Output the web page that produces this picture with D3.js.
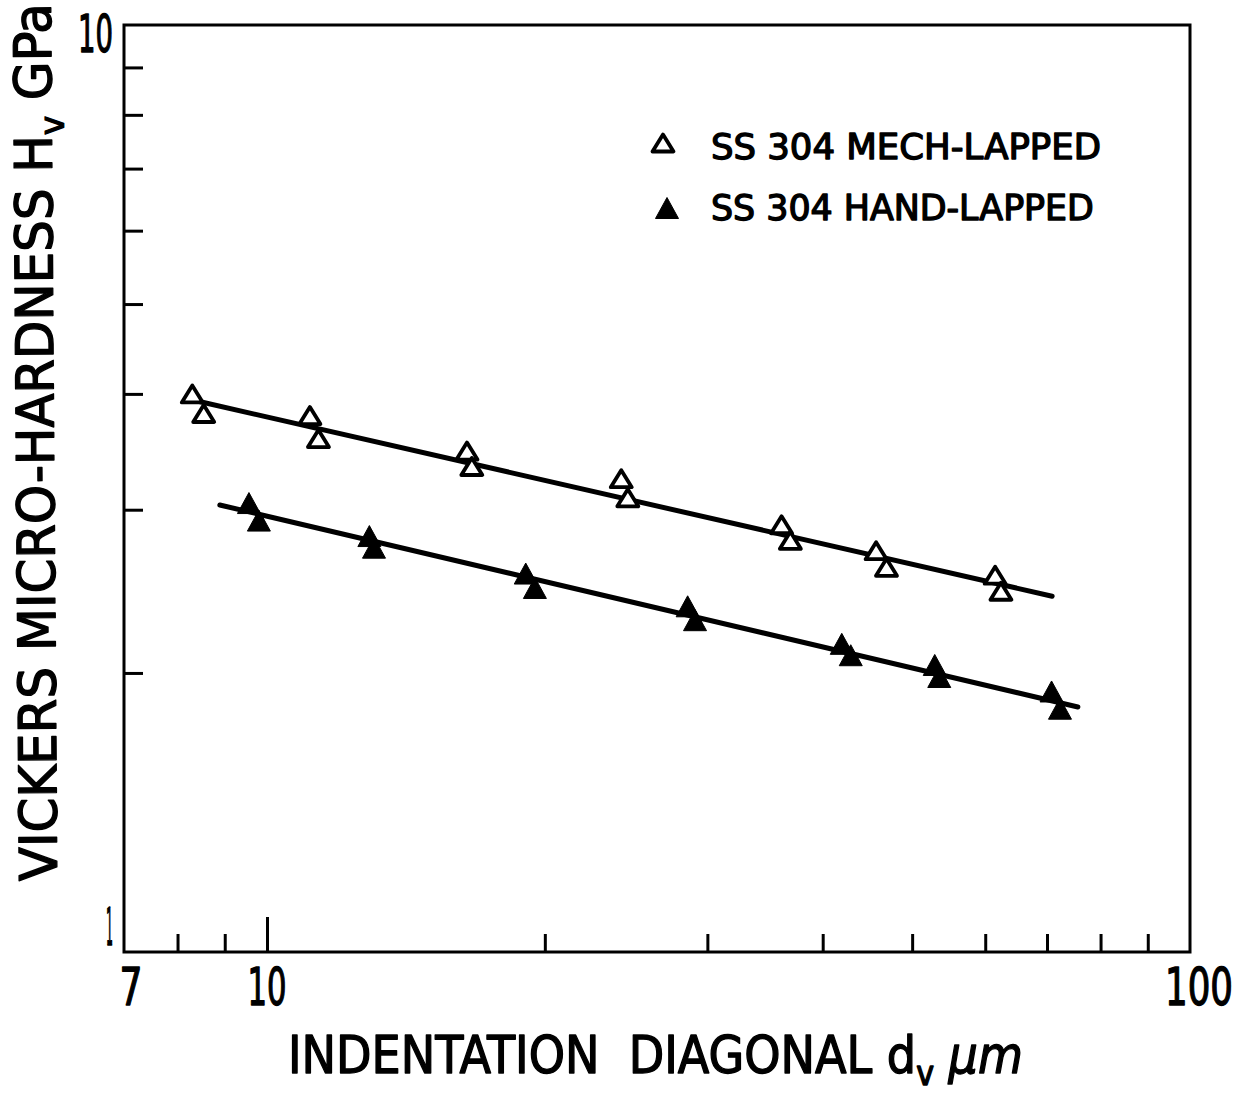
<!DOCTYPE html>
<html lang="en">
<head>
<meta charset="UTF-8" />
<title>Vickers micro-hardness vs indentation diagonal</title>
<script src="https://cdn.jsdelivr.net/npm/d3@7"></script>
<style>
    body { margin: 0; background: #fff; }
    text { font-family: "DejaVu Sans Condensed", "DejaVu Sans", sans-serif; fill: #000;
           stroke: #000; stroke-width: 1.3px; stroke-linejoin: round; }
</style>
</head>
<body>
<svg id="chart" width="1248" height="1097"></svg>
<script>

// data (d in um, Hv in GPa)
var mechD  = [8.30, 8.54, 11.13, 11.37, 16.47, 16.67, 24.2, 24.6, 36.1, 36.9, 45.7, 46.9, 61.5, 62.4];
var mechHv = [4.00, 3.81, 3.79, 3.58, 3.47, 3.34, 3.24, 3.09, 2.89, 2.78, 2.71, 2.60, 2.55, 2.45];
var handD  = [9.56, 9.80, 12.91, 13.06, 19.07, 19.51, 28.56, 29.09, 41.95, 42.9, 52.9, 53.5, 70.8, 72.3];
var handHv = [3.05, 2.92, 2.81, 2.73, 2.56, 2.47, 2.36, 2.28, 2.15, 2.09, 2.04, 1.98, 1.91, 1.83];

// fitted lines, end points
var mechFitD  = [8.4, 70.9];
var mechFitHv = [3.93, 2.42];
var handFitD  = [8.89, 75.6];
var handFitHv = [3.035, 1.838];

// ticks and labels
var xMinorTicks = [8, 9, 20, 30, 40, 50, 60, 70, 80, 90];
var xMajorTicks = [10];
var yMinorTicks = [2, 3, 4, 5, 6, 7, 8, 9];
var xTickLabels = [7, 10, 100];
var yTickLabels = [1, 10];
var legendLabels = ["SS 304 MECH-LAPPED", "SS 304 HAND-LAPPED"];

var svg = d3.select("#chart"),
    plot = {left: 124, right: 1190, top: 25, bottom: 952};

var x = d3.scaleLog().domain([7, 100]).range([plot.left, plot.right]);
var y = d3.scaleLog().domain([1, 10]).range([plot.bottom, plot.top]);

// squeeze a text element horizontally to a given width
function fit(t, x0, y0, w, angle) {
    var bw = t.node().getBBox().width;
    t.attr("transform", "translate(" + x0 + "," + y0 + ") rotate(" + (angle || 0) + ") scale(" + (w / bw) + ",1)");
}

// ticks (pointing inward)
var gx = svg.append("g").attr("transform", "translate(0," + plot.bottom + ")");
gx.append("g").call(d3.axisBottom(x).tickValues(xMinorTicks).tickSize(-18).tickFormat(""));
gx.append("g").call(d3.axisBottom(x).tickValues(xMajorTicks).tickSize(-35).tickFormat(""));
var gy = svg.append("g").attr("transform", "translate(" + plot.left + ",0)");
gy.append("g").call(d3.axisLeft(y).tickValues(yMinorTicks).tickSize(-19).tickFormat(""));
svg.selectAll(".domain").remove();
svg.selectAll(".tick line").attr("stroke", "#000").attr("stroke-width", 3);

// frame
svg.append("rect")
    .attr("x", plot.left).attr("y", plot.top)
    .attr("width", plot.right - plot.left).attr("height", plot.bottom - plot.top)
    .attr("fill", "none").attr("stroke", "#000").attr("stroke-width", 3);

// tick labels
var xLabelShift = {7: 7, 10: 0, 100: 9};
var xLabelWidth = {7: 23, 10: 39, 100: 68};
xTickLabels.forEach(function(d) {
    var t = svg.append("text").attr("font-size", 52).text(d);
    fit(t, x(d) + xLabelShift[d] - xLabelWidth[d] / 2, 1005, xLabelWidth[d]);
});
var yLabelRight = {1: 113, 10: 113};
var yLabelWidth = {1: 7, 10: 35};
var yLabelBase = {1: 945, 10: 52};
yTickLabels.forEach(function(d) {
    var t = svg.append("text").attr("font-size", 52).text(d);
    fit(t, yLabelRight[d] - yLabelWidth[d], yLabelBase[d], yLabelWidth[d]);
});

// axis titles
var xt = svg.append("text").attr("font-size", 52).attr("xml:space", "preserve");
xt.append("tspan").text("INDENTATION  DIAGONAL d");
xt.append("tspan").attr("font-size", 34).attr("dy", 12).text("v");
xt.append("tspan").attr("dy", -12).text(" ");
xt.append("tspan").attr("font-style", "italic").text("\u03bcm");
fit(xt, 288, 1073, 735);

var yt = svg.append("text").attr("font-size", 52);
yt.append("tspan").text("VICKERS MICRO-HARDNESS H");
yt.append("tspan").attr("font-size", 34).attr("dy", 12).text("v");
yt.append("tspan").attr("dy", -12).text(" GPa");
fit(yt, 57, 881, 878, -90.4);

// triangle markers
function triangle(hw, hh) {
    return "M0," + (-hh) + "L" + hw + "," + hh + "L" + (-hw) + "," + hh + "Z";
}
var openTri = triangle(10.5, 8.5);
var fillTri = triangle(11.5, 10.5);

var line = d3.line().x(function(d) { return x(d[0]); }).y(function(d) { return y(d[1]); });

function drawSeries(ds, hs, fitD, fitH, filled) {
    svg.append("path")
        .datum(d3.zip(fitD, fitH))
        .attr("d", line)
        .attr("fill", "none").attr("stroke", "#000")
        .attr("stroke-width", 5).attr("stroke-linecap", "round");
    svg.append("g").selectAll("path")
        .data(d3.zip(ds, hs))
        .enter().append("path")
            .attr("transform", function(d) { return "translate(" + x(d[0]) + "," + y(d[1]) + ")"; })
            .attr("d", filled ? fillTri : openTri)
            .attr("fill", filled ? "#000" : "#fff")
            .attr("stroke", "#000")
            .attr("stroke-width", filled ? 1 : 3.8)
            .attr("stroke-linejoin", "round");
}
drawSeries(mechD, mechHv, mechFitD, mechFitHv, false);
drawSeries(handD, handHv, handFitD, handFitHv, true);

// legend
var legendRows = [
    {sym: openTri, fill: "#fff", sw: 3.8, cx: 663, cy: 143, base: 159, w: 390},
    {sym: fillTri, fill: "#000", sw: 1, cx: 667, cy: 208, base: 220, w: 383}
];
legendLabels.forEach(function(label, i) {
    var r = legendRows[i];
    svg.append("path")
        .attr("transform", "translate(" + r.cx + "," + r.cy + ")")
        .attr("d", r.sym).attr("fill", r.fill)
        .attr("stroke", "#000").attr("stroke-width", r.sw).attr("stroke-linejoin", "round");
    var t = svg.append("text").attr("font-size", 36).text(label);
    fit(t, 711, r.base, r.w);
});

</script>
</body>
</html>
